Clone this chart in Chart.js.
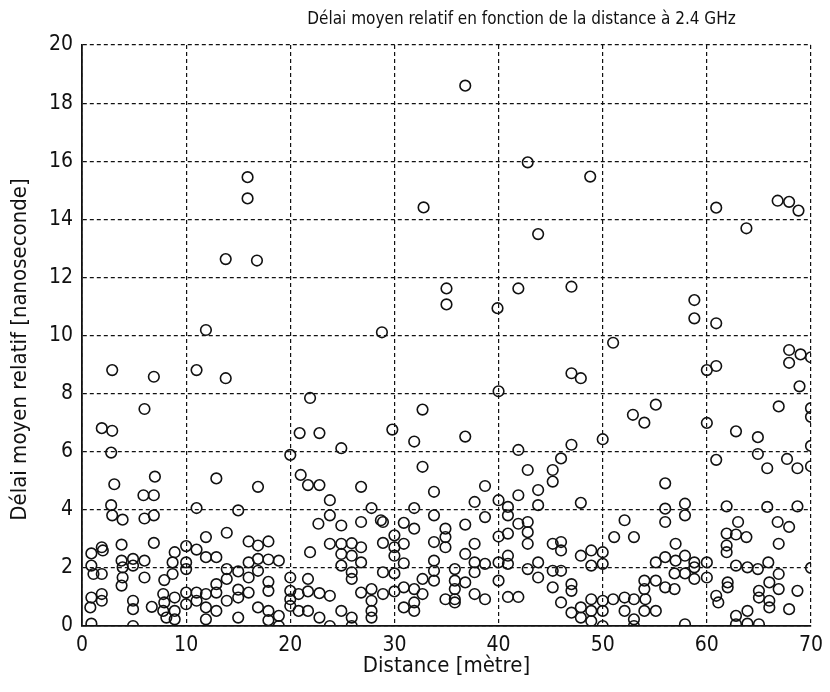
<!DOCTYPE html>
<html lang="fr">
<head>
<meta charset="utf-8">
<title>Délai moyen relatif</title>
<script src="https://cdn.jsdelivr.net/npm/chart.js@4/dist/chart.umd.min.js"></script>
<style>
  html, body { margin: 0; padding: 0; background: #fff; }
  #wrap { width: 830px; height: 692px; }
</style>
</head>
<body>
<div id="wrap"><canvas id="c" width="830" height="692"></canvas></div>
<script>
// Distance (m) of each measurement point
const distance = [
  2.9, 6.9, 11.0, 13.8, 11.9, 13.8, 16.8, 15.9, 15.9,
  6.0, 1.9, 2.9, 2.8, 3.1, 7.0, 5.9, 6.9, 2.8, 2.9, 3.9, 6.0, 6.9, 0.9, 1.9, 2.0, 3.8, 6.9, 0.9, 1.1, 1.9,
  3.8, 3.9, 3.9, 3.8, 4.9, 4.9, 6.0, 6.0, 7.9, 8.7, 8.7, 0.9, 1.9, 1.9, 0.8, 0.9, 4.9, 4.9, 4.9, 6.7,
  7.8, 7.9, 7.8, 8.1, 8.9, 8.9,
  20.9, 20.0, 21.0, 12.9, 16.9, 11.0, 15.0, 13.9, 11.9, 16.0, 16.9, 17.9, 10.0, 11.0, 8.9, 10.0, 11.9,
  12.9, 16.0, 16.9, 17.9, 18.9, 13.9, 15.0, 16.9, 10.0, 12.9, 13.9, 16.0, 17.9, 20.0, 10.0, 11.0, 11.9,
  12.9, 13.9, 15.0, 15.0, 16.0, 17.9, 16.9, 20.0, 20.0, 10.0, 11.0, 11.9, 12.9, 8.9, 11.9, 15.0, 17.9,
  17.9, 18.9, 18.9, 20.0,
  21.9, 22.8, 24.9, 29.8, 32.7, 31.9, 32.7, 21.7, 22.8, 26.8, 23.8, 23.8, 22.7, 24.9, 26.8, 27.8, 28.7,
  28.9, 31.9, 30.9, 31.9, 30.0, 21.9, 23.8, 24.9, 25.9, 26.8, 24.9, 25.9, 26.8, 24.9, 25.9, 25.9, 28.9,
  30.0, 30.9, 30.0, 30.9, 21.7, 28.9, 30.0, 20.8, 21.7, 22.8, 23.8, 26.8, 27.8, 28.9, 30.0, 30.9, 31.9,
  27.8, 27.8, 27.8, 31.9, 30.9, 31.9, 20.8, 21.7, 22.8, 23.8, 24.9, 25.9, 25.9,
  40.0, 36.8, 41.9, 42.8, 33.8, 38.7, 43.8, 37.7, 40.0, 41.9, 43.8, 33.8, 40.9, 40.9, 38.7, 36.8, 34.9,
  34.9, 33.8, 34.9, 37.7, 41.9, 42.8, 42.8, 40.9, 40.0, 42.8, 36.8, 33.8, 33.8, 35.8, 37.7, 38.7, 37.7,
  40.9, 40.9, 40.0, 42.8, 43.8, 43.8, 32.7, 33.8, 35.8, 35.8, 36.8, 32.7, 34.9, 35.8, 35.8, 37.7, 38.7,
  40.0, 40.9, 41.9,
  55.1, 52.9, 54.0, 50.0, 47.0, 46.0, 45.2, 45.2, 56.0, 47.9, 56.0, 56.0, 52.1, 53.0, 51.1, 45.2, 46.0,
  46.0, 48.9, 50.0, 47.9, 48.9, 50.0, 57.0, 56.0, 55.1, 57.0, 45.2, 46.0, 45.2, 47.0, 47.0, 54.0, 55.1,
  54.0, 56.0, 46.0, 47.0, 47.9, 48.9, 48.9, 50.0, 50.0, 50.0, 51.0, 52.1, 52.1, 53.0, 53.0, 53.0, 54.1,
  54.0, 55.1, 47.9, 48.9,
  66.9, 60.0, 62.8, 64.9, 60.9, 64.9, 65.8, 67.7, 68.7, 57.9, 61.9, 65.8, 68.7, 57.9, 63.0, 66.8, 67.9,
  61.9, 62.8, 63.8, 66.9, 61.9, 61.9, 57.9, 58.8, 58.8, 60.0, 60.0, 58.8, 56.9, 57.9, 62.8, 63.9, 64.9,
  65.9, 66.9, 66.0, 66.9, 65.0, 65.0, 66.0, 66.0, 67.9, 68.7, 62.0, 62.0, 60.9, 61.1, 56.9, 57.9, 62.8,
  63.9, 62.8, 63.9, 65.0,
  36.8, 42.8, 32.8, 43.8, 35.0, 35.0, 41.9, 39.9, 28.8,
  48.8, 60.9, 63.8, 66.8, 67.9, 68.8, 47.0, 58.8, 58.8, 60.9, 51.0, 60.0, 60.9, 67.9, 67.9, 47.0, 47.9,
  69.0, 68.9, 70.0, 70.0, 70.0, 70.0, 70.0, 70.0
];

// Mean relative delay (ns) at each point, same order as distance
const delay = [
  8.81, 8.58, 8.81, 8.53, 10.19, 12.63, 12.58, 15.45, 14.72,
  7.47, 6.81, 6.72, 5.97, 4.88, 5.14, 4.50, 4.50, 4.16, 3.81, 3.66, 3.70, 3.81, 2.50, 2.71, 2.60, 2.80, 2.86, 2.08, 1.79, 1.79,
  2.25, 2.02, 1.67, 1.39, 2.31, 2.08, 2.25, 1.67, 1.58, 2.19, 1.79, 0.98, 1.10, 0.87, 0.64, 0.08, 0.87, 0.58, 0.00, 0.66,
  1.10, 0.81, 0.52, 0.29, 0.52, 0.23,
  6.64, 5.89, 5.20, 5.08, 4.79, 4.06, 3.98, 3.21, 3.06, 2.91, 2.77, 2.91, 2.75, 2.63, 2.54, 2.19, 2.37,
  2.37, 2.19, 2.31, 2.29, 2.25, 1.96, 1.88, 1.90, 1.96, 1.44, 1.62, 1.67, 1.52, 1.67, 1.15, 1.15, 1.10,
  1.15, 0.87, 1.25, 0.98, 1.15, 1.21, 0.64, 1.21, 0.92, 0.75, 0.87, 0.64, 0.52, 0.98, 0.23, 0.29, 0.52,
  0.20, 0.35, 0.00, 0.69,
  7.85, 6.64, 6.12, 6.76, 7.45, 6.35, 5.48, 4.85, 4.85, 4.79, 4.33, 3.81, 3.52, 3.46, 3.58, 4.06, 3.64,
  3.58, 4.06, 3.55, 3.35, 3.12, 2.54, 2.83, 2.83, 2.85, 2.71, 2.48, 2.42, 2.19, 2.08, 1.85, 1.62, 2.86,
  2.71, 2.83, 2.42, 2.16, 1.62, 1.85, 1.81, 1.10, 1.19, 1.13, 1.04, 1.15, 1.27, 1.10, 1.19, 1.33, 1.27,
  0.87, 0.52, 0.29, 0.81, 0.64, 0.52, 0.52, 0.52, 0.29, 0.00, 0.52, 0.29, 0.00,
  8.08, 6.52, 6.06, 5.37, 4.62, 4.82, 4.68, 4.27, 4.33, 4.50, 4.16, 3.81, 4.10, 3.81, 3.75, 3.49, 3.35,
  3.06, 2.89, 2.71, 2.83, 3.52, 3.58, 3.23, 3.18, 3.08, 2.83, 2.48, 2.25, 1.90, 1.96, 2.19, 2.14, 1.85,
  2.42, 2.14, 2.19, 1.96, 2.19, 1.67, 1.62, 1.56, 1.56, 1.27, 1.50, 1.10, 0.92, 0.92, 0.81, 1.10, 0.92,
  1.56, 1.00, 1.00,
  7.62, 7.27, 7.00, 6.43, 6.24, 5.77, 5.37, 4.97, 4.91, 4.24, 4.04, 3.58, 3.64, 3.06, 3.06, 2.83, 2.89,
  2.60, 2.60, 2.54, 2.42, 2.08, 2.14, 2.83, 2.37, 2.19, 2.25, 1.90, 1.90, 1.33, 1.44, 1.21, 1.56, 1.56,
  1.27, 1.33, 0.81, 0.46, 0.64, 0.92, 0.52, 0.87, 0.52, 0.00, 0.92, 0.98, 0.52, 0.92, 0.23, 0.00, 0.92,
  0.52, 0.52, 0.29, 0.17,
  7.56, 6.99, 6.70, 6.50, 5.72, 5.92, 5.43, 5.75, 5.43, 4.21, 4.12, 4.10, 4.12, 3.81, 3.58, 3.58, 3.41,
  3.18, 3.15, 3.06, 2.83, 2.77, 2.54, 2.42, 2.19, 2.02, 2.19, 1.67, 1.62, 1.81, 1.81, 2.08, 2.02, 1.96,
  2.19, 1.79, 1.50, 1.27, 1.21, 0.98, 0.87, 0.64, 0.58, 1.21, 1.50, 1.33, 1.04, 0.81, 1.27, 0.06, 0.35,
  0.52, 0.06, 0.08, 0.06,
  18.60, 15.96, 14.41, 13.49, 11.62, 11.07, 11.62, 10.94, 10.11,
  15.47, 14.40, 13.69, 14.64, 14.60, 14.30, 11.68, 11.22, 10.59, 10.42, 9.75, 8.81, 8.95, 9.50, 9.06, 8.70, 8.53,
  9.35, 8.25, 9.25, 7.50, 7.20, 6.20, 5.50, 2.00
];

// Axis tick values
const xTicks = [0, 10, 20, 30, 40, 50, 60, 70];
const yTicks = [0, 2, 4, 6, 8, 10, 12, 14, 16, 18, 20];

const points = distance.map((d, i) => ({ x: d, y: delay[i] }));

const FONT = '"Liberation Sans Narrow", "DejaVu Sans Condensed", "Liberation Sans", sans-serif';
const INK = '#111';
const Y_TITLE = 'Délai moyen relatif [nanoseconde]';

// Place the chart title (slightly right of the plot centre) and draw the
// vertical axis caption, which sits a little below the plot's mid-height.
const captions = {
  id: 'captions',
  afterLayout(chart) {
    const t = chart.titleBlock;
    if (t) { t.left = chart.chartArea.left + 150; t.right = chart.chartArea.right; }
  },
  afterDraw(chart) {
    const { ctx, chartArea } = chart;
    ctx.save();
    ctx.translate(20, (chartArea.top + chartArea.bottom) / 2 + 14);
    ctx.rotate(-Math.PI / 2);
    ctx.fillStyle = INK;
    ctx.font = '22px ' + FONT;
    ctx.textAlign = 'center';
    ctx.textBaseline = 'middle';
    ctx.fillText(Y_TITLE, 0, 0);
    ctx.restore();
  }
};

new Chart(document.getElementById('c'), {
  type: 'scatter',
  data: {
    datasets: [{
      data: points,
      pointStyle: 'circle',
      pointRadius: 5.3,
      pointHoverRadius: 5.3,
      pointBorderWidth: 1.6,
      borderColor: INK,
      backgroundColor: 'rgba(0,0,0,0)'
    }]
  },
  options: {
    responsive: false,
    animation: false,
    events: [],
    layout: { padding: { left: 0, right: 13, top: 0, bottom: 0 } },
    plugins: {
      legend: { display: false },
      tooltip: { enabled: false },
      title: {
        display: true,
        text: 'Délai moyen relatif en fonction de la distance à 2.4 GHz',
        color: INK,
        font: { family: FONT, size: 17, weight: 'normal', lineHeight: 1.2 },
        padding: { top: 9, bottom: 15.6 }
      }
    },
    scales: {
      x: {
        type: 'linear',
        min: 0, max: 70,
        afterBuildTicks: s => { s.ticks = xTicks.map(v => ({ value: v })); },
        afterFit: s => { s.height = 66; },
        ticks: { color: INK, padding: 7, font: { family: FONT, size: 21 }, maxRotation: 0 },
        grid: { color: INK, lineWidth: 1.2, drawTicks: false },
        border: { display: true, color: INK, width: 1.8, dash: [4, 3] },
        title: {
          display: true,
          text: 'Distance [mètre]',
          color: INK,
          font: { family: FONT, size: 22, lineHeight: 1.2 },
          padding: { top: 0, bottom: 13 }
        }
      },
      y: {
        type: 'linear',
        min: 0, max: 20,
        afterBuildTicks: s => { s.ticks = yTicks.map(v => ({ value: v })); },
        afterFit: s => { s.width = 82; },
        ticks: { color: INK, padding: 9, font: { family: FONT, size: 21 } },
        grid: { color: INK, lineWidth: 1.2, drawTicks: false },
        border: { display: true, color: INK, width: 1.8, dash: [4, 3] },
        title: { display: false }
      }
    }
  },
  plugins: [captions]
});
</script>
</body>
</html>
